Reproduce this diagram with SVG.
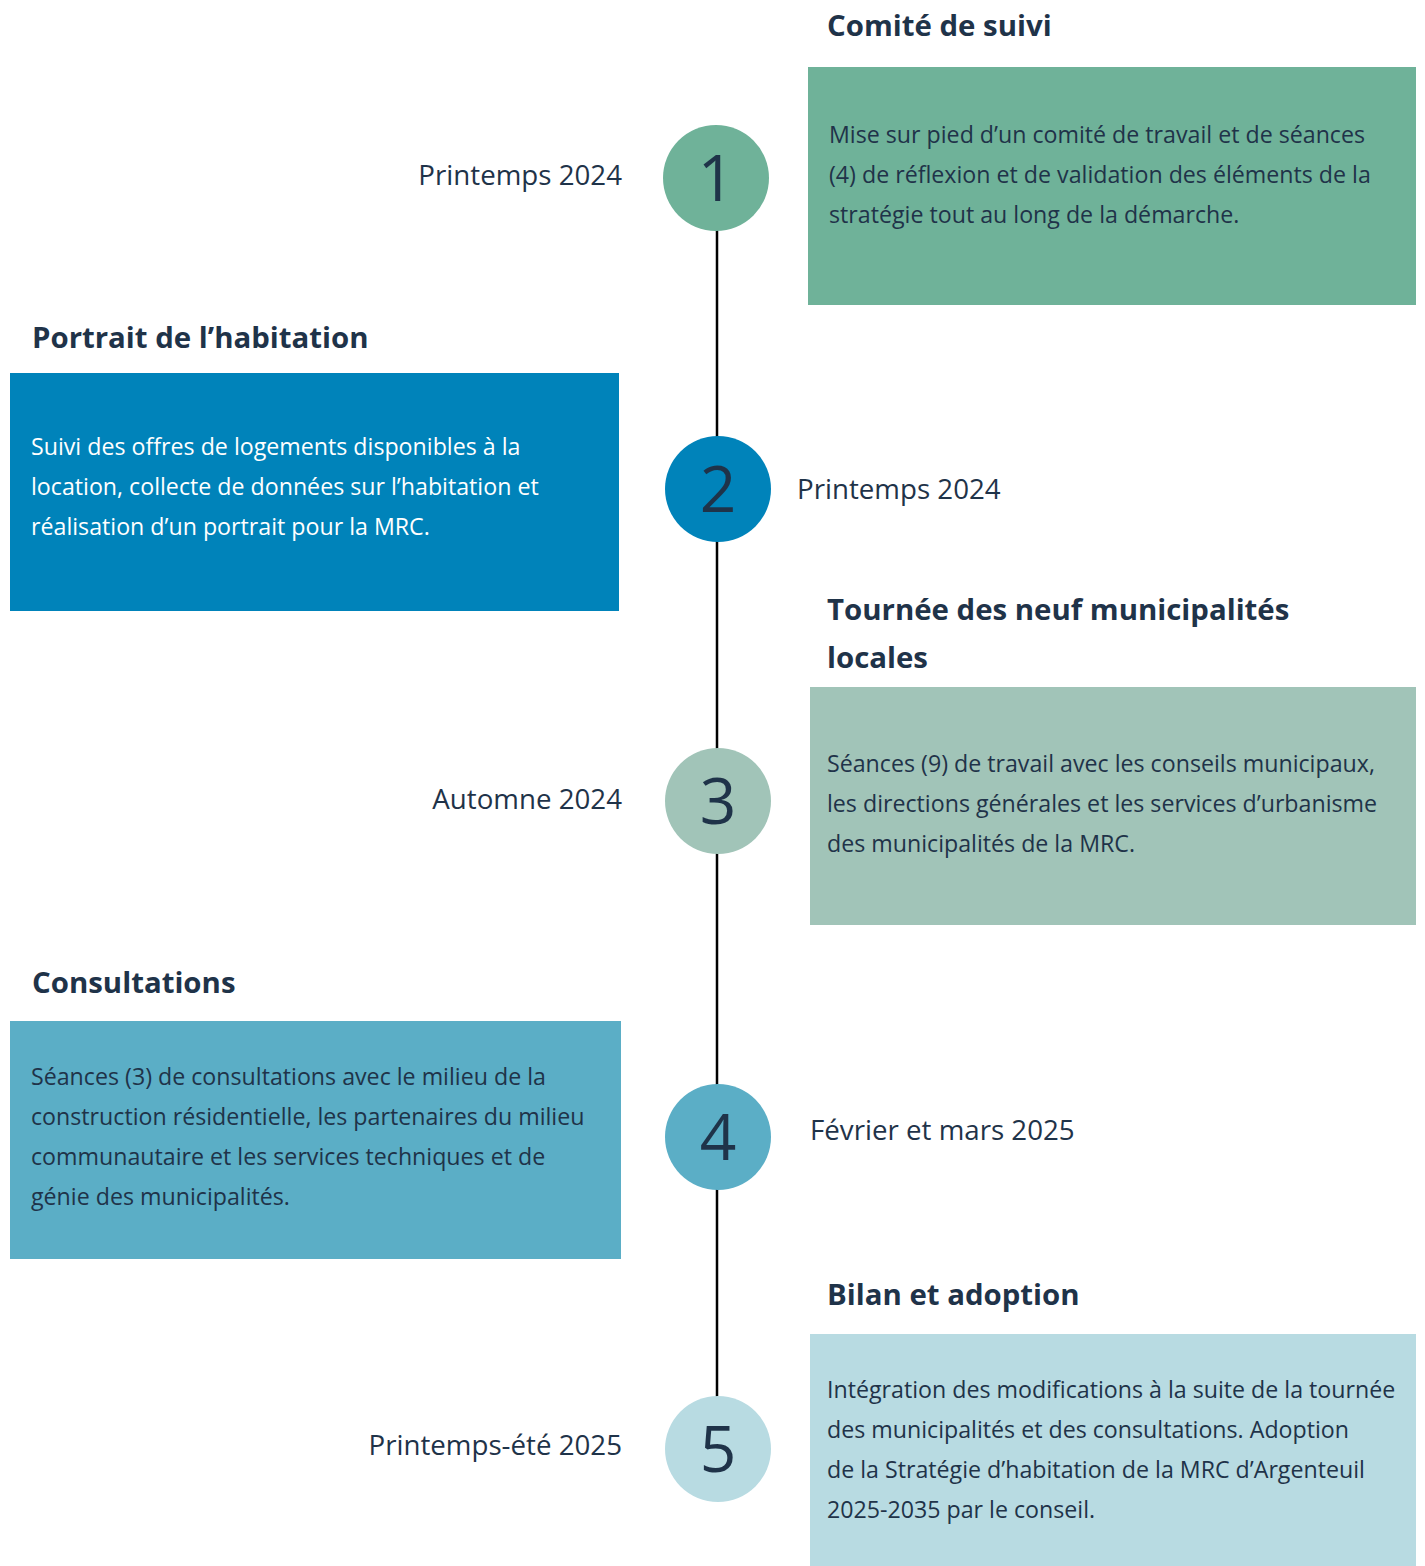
<svg xmlns="http://www.w3.org/2000/svg" width="1425" height="1566" viewBox="0 0 1425 1566">
<style>
.title{font-family:"Open Sans","Noto Sans",sans-serif;font-weight:700;font-size:29.4px;fill:#1f3349}
.body{font-family:"Open Sans","Noto Sans",sans-serif;font-size:23.2px;fill:#1f3349}
.bodyw{font-family:"Open Sans","Noto Sans",sans-serif;font-size:23.2px;fill:#ffffff}
.date{font-family:"Open Sans","Noto Sans",sans-serif;font-size:27.7px;fill:#1f3349}
.num{font-family:"Open Sans","Noto Sans",sans-serif;font-size:64px;fill:#1f3349;text-anchor:middle}
</style>
<rect width="1425" height="1566" fill="#ffffff"/>
<g id="connectors">
<line x1="717" y1="228" x2="717" y2="1399" stroke="#000000" stroke-width="2.5"/>
</g>
<g id="step1">
<circle cx="716" cy="178" r="53" fill="#6fb299"/>
<text class="num" x="716" y="201">1</text>
<text class="date" x="622" y="185" text-anchor="end">Printemps 2024</text>
<text class="title" x="827" y="36">Comité de suivi</text>
<rect x="808" y="67" width="608" height="238" fill="#6fb299"/>
<text class="body" x="829" y="143">Mise sur pied d’un comité de travail et de séances</text>
<text class="body" x="829" y="183">(4) de réflexion et de validation des éléments de la</text>
<text class="body" x="829" y="223">stratégie tout au long de la démarche.</text>
</g>
<g id="step2">
<circle cx="718" cy="489" r="53" fill="#0083ba"/>
<text class="num" x="718" y="512">2</text>
<text class="date" x="797" y="499">Printemps 2024</text>
<text class="title" x="32" y="348">Portrait de l’habitation</text>
<rect x="10" y="373" width="609" height="238" fill="#0083ba"/>
<text class="bodyw" x="31" y="455">Suivi des offres de logements disponibles à la</text>
<text class="bodyw" x="31" y="495">location, collecte de données sur l’habitation et</text>
<text class="bodyw" x="31" y="535">réalisation d’un portrait pour la MRC.</text>
</g>
<g id="step3">
<circle cx="718" cy="801" r="53" fill="#a1c4b8"/>
<text class="num" x="718" y="824">3</text>
<text class="date" x="622" y="809" text-anchor="end">Automne 2024</text>
<text class="title" x="827" y="620">Tournée des neuf municipalités</text>
<text class="title" x="827" y="668">locales</text>
<rect x="810" y="687" width="606" height="238" fill="#a1c4b8"/>
<text class="body" x="827" y="772">Séances (9) de travail avec les conseils municipaux,</text>
<text class="body" x="827" y="812">les directions générales et les services d’urbanisme</text>
<text class="body" x="827" y="852">des municipalités de la MRC.</text>
</g>
<g id="step4">
<circle cx="718" cy="1137" r="53" fill="#5baec6"/>
<text class="num" x="718" y="1160">4</text>
<text class="date" x="810" y="1140">Février et mars 2025</text>
<text class="title" x="32" y="993">Consultations</text>
<rect x="10" y="1021" width="611" height="238" fill="#5baec6"/>
<text class="body" x="31" y="1085">Séances (3) de consultations avec le milieu de la</text>
<text class="body" x="31" y="1125">construction résidentielle, les partenaires du milieu</text>
<text class="body" x="31" y="1165">communautaire et les services techniques et de</text>
<text class="body" x="31" y="1205">génie des municipalités.</text>
</g>
<g id="step5">
<circle cx="718" cy="1449" r="53" fill="#b8dbe2"/>
<text class="num" x="718" y="1472">5</text>
<text class="date" x="622" y="1455" text-anchor="end">Printemps-été 2025</text>
<text class="title" x="827" y="1305">Bilan et adoption</text>
<rect x="810" y="1334" width="606" height="232" fill="#b8dbe2"/>
<text class="body" x="827" y="1398">Intégration des modifications à la suite de la tournée</text>
<text class="body" x="827" y="1438">des municipalités et des consultations. Adoption</text>
<text class="body" x="827" y="1478">de la Stratégie d’habitation de la MRC d’Argenteuil</text>
<text class="body" x="827" y="1518">2025-2035 par le conseil.</text>
</g>
</svg>
